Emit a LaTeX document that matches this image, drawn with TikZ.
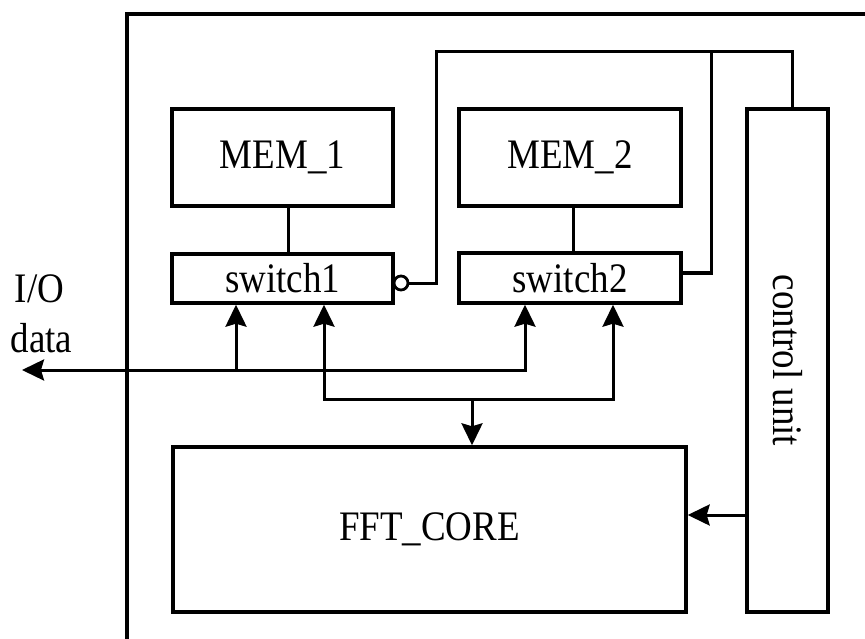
\documentclass[tikz,border=0pt]{standalone}
\usepackage{fontspec}
\usepackage{graphicx}
\setmainfont{Liberation Serif}
\usetikzlibrary{arrows.meta}
\newcommand\lbl[1]{\scalebox{0.88}[1]{#1}}
\begin{document}
\begin{tikzpicture}[x=1pt,y=-1pt,
  box/.style={draw,line width=3.4pt,inner sep=0pt,font=\fontsize{42}{46}\selectfont},
  wire/.style={line width=3pt},
  arr/.style={wire,-{Stealth[length=22pt,width=21pt,inset=3pt]}},
  darr/.style={wire,{Stealth[length=22pt,width=21pt,inset=3pt]}-{Stealth[length=22pt,width=21pt,inset=3pt]}},
  txt/.style={inner sep=0pt,font=\fontsize{42}{46}\selectfont}]
\useasboundingbox (0,0) rectangle (865,639);
% outer frame
\draw[line width=3.8pt] (127,639) -- (127,14) -- (865,14);
% blocks
\node[box,minimum width=221pt,minimum height=97pt] (mem1) at (282.5,157.5) {\lbl{MEM\_1}};
\node[box,minimum width=222pt,minimum height=97pt] (mem2) at (570,157.5) {\lbl{MEM\_2}};
\node[box,minimum width=221pt,minimum height=49pt] (sw1) at (282.5,278.5) {\lbl{switch1}};
\node[box,minimum width=222pt,minimum height=50pt] (sw2) at (570,278) {\lbl{switch2}};
\node[box,minimum width=81pt,minimum height=503pt] (cu) at (787.5,360.5) {\rotatebox{-90}{\lbl{control unit}}};
\node[box,minimum width=513pt,minimum height=165pt] (fft) at (429.5,529.5) {\lbl{FFT\_CORE}};
% I/O label
\node[txt,anchor=base] (io1) at (39.5,302) {\lbl{I/O}};
\node[txt,anchor=base] (io2) at (41.5,352) {\lbl{data}};
% coordinates
\coordinate (ioend) at (22,370);
\coordinate (b1r) at (525,370);
\coordinate (b1l) at (236,370);
\coordinate (b2l) at (324,399);
\coordinate (b2r) at (613,399);
\coordinate (b2m) at (472,399);
\coordinate (m1x) at (288,0);
\coordinate (m2x) at (573,0);
\coordinate (inv) at (401,283);
\coordinate (wa) at (436,283);
\coordinate (wb) at (436,52);
\coordinate (wc) at (711,52);
\coordinate (wd) at (792,52);
\coordinate (we) at (711,273);
\coordinate (ca) at (747,515);
% mem-switch links
\draw[wire] (m1x |- mem1.south) -- (m1x |- sw1.north);
\draw[wire] (m2x |- mem2.south) -- (m2x |- sw2.north);
% I/O data bus
\draw[darr] (ioend) -- (b1r) -- (b1r |- sw2.south);
\draw[arr] (b1l) -- (b1l |- sw1.south);
% core bus
\draw[darr] (b2l |- sw1.south) -- (b2l) -- (b2r) -- (b2r |- sw2.south);
\draw[arr] (b2m) -- (b2m |- fft.north);
% control
\draw[arr] (ca) -- (fft.east |- ca);
\node[draw,circle,line width=2.8pt,minimum size=14pt,inner sep=0pt] (bub) at (inv) {};
\draw[wire] (bub.east) -- (wa) -- (wb) -- (wd) -- (wd |- cu.north);
\draw[wire] (wc) -- (we) -- (sw2.east |- we);
\end{tikzpicture}
\end{document}
